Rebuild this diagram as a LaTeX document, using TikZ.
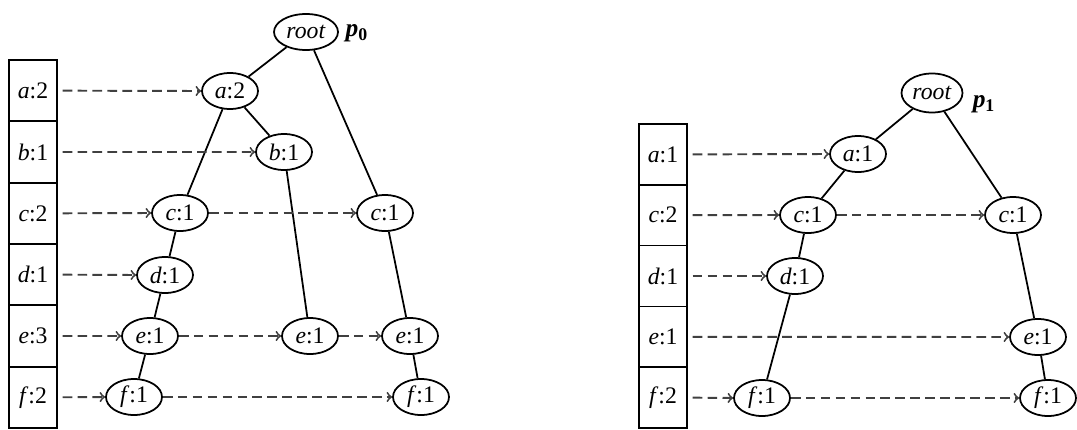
\documentclass[tikz,border=0pt]{standalone}
\usepackage{fontspec}
\setmainfont{Liberation Serif}
\usetikzlibrary{shapes.geometric}
\tikzset{
  nodo/.style={ellipse, draw, line width=1pt, inner sep=0pt,
    minimum width=11.2mm, minimum height=7.2mm, font=\fontsize{13.5}{15}\selectfont},
  celda/.style={rectangle, draw, line width=1pt, inner sep=0pt,
    minimum width=9.5mm, font=\fontsize{13.5}{15}\selectfont},
  rama/.style={line width=1pt},
  puntero/.style={->, black!75, line width=1.1pt, dash pattern=on 5.5pt off 3pt},
}
\begin{document}
\begin{tikzpicture}[x=0.02cm, y=-0.02cm]
    \useasboundingbox (0,0) rectangle (1077,429);
    % Tabla de cabeceras (p0)
    \foreach \n/\t [count=\i] in {a/2,b/1,c/2,d/1,e/3,f/2}
        \node[celda, minimum height=12.27mm] (t0\n) at (33, 29.33+61.33*\i) {\textit{\n}:\t};
    % Árbol p0
    \node[nodo, minimum width=12.8mm] (raiz0) at (306,32) {\textit{root}};
    \node (p0) at (357,33) {\fontsize{14.5}{16}\selectfont\textbf{\textit{p}\textsubscript{0}}};
    \node[nodo] (a0)  at (230,91)  {\textit{a}:2};
    \node[nodo] (b0)  at (284,152) {\textit{b}:1};
    \node[nodo] (c0)  at (180,213) {\textit{c}:1};
    \node[nodo] (c0b) at (385,213) {\textit{c}:1};
    \node[nodo] (d0)  at (165,275) {\textit{d}:1};
    \node[nodo] (e0)  at (150,336) {\textit{e}:1};
    \node[nodo] (e0b) at (310,336) {\textit{e}:1};
    \node[nodo] (e0c) at (410,336) {\textit{e}:1};
    \node[nodo] (f0)  at (134,397) {\textit{f}:1};
    \node[nodo] (f0b) at (421,397) {\textit{f}:1};
    \draw[rama] (raiz0) -- (a0);
    \draw[rama] (raiz0) -- (c0b);
    \draw[rama] (a0) -- (b0);
    \draw[rama] (a0) -- (c0);
    \draw[rama] (b0) -- (e0b);
    \draw[rama] (c0) -- (d0);
    \draw[rama] (d0) -- (e0);
    \draw[rama] (e0) -- (f0);
    \draw[rama] (c0b) -- (e0c);
    \draw[rama] (e0c) -- (f0b);
    % Enlaces de nodos (p0)
    \draw[puntero, shorten <=1mm] (t0a.east) -- (a0.west);
    \draw[puntero, shorten <=1mm] (t0b.east) -- (b0.west);
    \draw[puntero, shorten <=1mm] (t0c.east) -- (c0.west);
    \draw[puntero] (c0.east) -- (c0b.west);
    \draw[puntero, shorten <=1mm] (t0d.east) -- (d0.west);
    \draw[puntero, shorten <=1mm] (t0e.east) -- (e0.west);
    \draw[puntero] (e0.east) -- (e0b.west);
    \draw[puntero] (e0b.east) -- (e0c.west);
    \draw[puntero, shorten <=1mm] (t0f.east) -- (f0.west);
    \draw[puntero] (f0.east) -- (f0b.west);
    % Tabla de cabeceras (p1)
    \foreach \n/\t [count=\i] in {a/1,c/2,d/1,e/1,f/2}
        \node[celda, minimum height=12.16mm] (t1\n) at (663, 93.6+60.8*\i) {\textit{\n}:\t};
    % Árbol p1
    \node[nodo, minimum width=12.2mm, minimum height=7.8mm] (raiz1) at (932,93) {\textit{root}};
    \node (p1) at (984,104) {\fontsize{14.5}{16}\selectfont\textbf{\textit{p}\textsubscript{1}}};
    \node[nodo] (a1)  at (858,154) {\textit{a}:1};
    \node[nodo] (c1)  at (808,215) {\textit{c}:1};
    \node[nodo] (c1b) at (1013,215) {\textit{c}:1};
    \node[nodo] (d1)  at (795,276) {\textit{d}:1};
    \node[nodo] (e1b) at (1038,337) {\textit{e}:1};
    \node[nodo] (f1)  at (762,398) {\textit{f}:1};
    \node[nodo] (f1b) at (1048,398) {\textit{f}:1};
    \draw[rama] (raiz1) -- (a1);
    \draw[rama] (raiz1) -- (c1b);
    \draw[rama] (a1) -- (c1);
    \draw[rama] (c1) -- (d1);
    \draw[rama] (d1) -- (f1);
    \draw[rama] (c1b) -- (e1b);
    \draw[rama] (e1b) -- (f1b);
    % Enlaces de nodos (p1)
    \draw[puntero, shorten <=1mm] (t1a.east) -- (a1.west);
    \draw[puntero, shorten <=1mm] (t1c.east) -- (c1.west);
    \draw[puntero] (c1.east) -- (c1b.west);
    \draw[puntero, shorten <=1mm] (t1d.east) -- (d1.west);
    \draw[puntero, shorten <=1mm] (t1e.east) -- (e1b.west);
    \draw[puntero, shorten <=1mm] (t1f.east) -- (f1.west);
    \draw[puntero] (f1.east) -- (f1b.west);
\end{tikzpicture}
\end{document}
